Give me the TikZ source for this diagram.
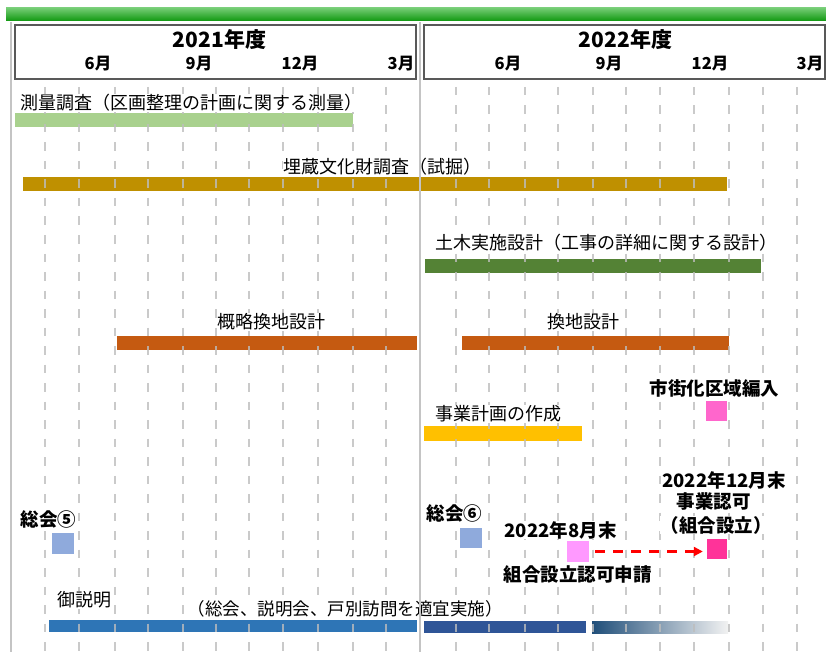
\documentclass[tikz,border=0pt]{standalone}
\usepackage{fontspec}
\setmainfont{Noto Sans CJK JP}
\usetikzlibrary{arrows.meta}
\definecolor{cSurvey}{HTML}{A9D18E}
\definecolor{cGold}{HTML}{BF9000}
\definecolor{cDkGreen}{HTML}{548235}
\definecolor{cOrange}{HTML}{C55A11}
\definecolor{cYellow}{HTML}{FFC000}
\definecolor{cBlue}{HTML}{2E75B6}
\definecolor{cNavy}{HTML}{2F5597}
\definecolor{cGradA}{HTML}{1F4E79}
\definecolor{cGradB}{HTML}{B4C7E7}
\definecolor{cGradC}{HTML}{F2F2F2}
\definecolor{cSq}{HTML}{8FAADC}
\definecolor{cPinkL}{HTML}{FF99FF}
\definecolor{cPinkD}{HTML}{FF3399}
\definecolor{cPinkM}{HTML}{FF66CC}
\definecolor{cTopL}{HTML}{74CC74}
\definecolor{cTopD}{HTML}{0F980F}
\definecolor{cBox}{HTML}{595959}
\definecolor{cGrid}{HTML}{BDBDBD}
\definecolor{cVline}{HTML}{C4C4C4}
\begin{document}
\begin{tikzpicture}[x=1pt,y=-1pt,
  lbl/.style={font=\fontsize{18}{20}\selectfont, fill=white, inner sep=0.5pt},
  blbl/.style={font=\fontsize{18.5}{21}\selectfont\bfseries, fill=white, inner sep=0.5pt},
  yearlbl/.style={font=\fontsize{21}{23}\selectfont\bfseries, inner sep=0pt},
  monlbl/.style={font=\fontsize{16.5}{18}\selectfont\bfseries, inner sep=0pt},
  hbox/.style={draw=cBox, line width=1.5pt, fill=white},
  gridl/.style={draw=cGrid, line width=1.4pt, dash pattern=on 8.5pt off 10pt, opacity=0.8},
  vline/.style={draw=cVline, line width=2pt},
  sq/.style={minimum width=22pt, minimum height=21pt, inner sep=0pt, draw=none},
  redarrow/.style={draw=red, line width=2.5pt, dash pattern=on 10pt off 8pt,
    -{Triangle[length=9pt,width=9pt]}, shorten <=6pt, shorten >=4pt}]
\useasboundingbox (0,0) rectangle (826,652);
% top green band
\shade[top color=cTopL, bottom color=cTopD] (6,8) rectangle (826,21);
% header boxes
\draw[hbox] (15,25) rectangle (416,79);
\draw[hbox] (424,25) rectangle (825,79);
\node[yearlbl] (y1) at (219.5,40) {2021年度};
\node[yearlbl] (y2) at (625.5,40) {2022年度};
\foreach \x/\m/\n in {98/6月/a,199/9月/b,300/12月/c,401/3月/d,508/6月/e,609/9月/f,710/12月/g,810/3月/h}
  \node[monlbl] (m\n) at (\x,64) {\m};
% bars
\fill[cSurvey] (15,113) rectangle (353,127);
\fill[cGold] (23,177) rectangle (727,191);
\fill[cDkGreen] (425,259) rectangle (761,273);
\fill[cOrange] (117,336) rectangle (417,350);
\fill[cOrange] (462,336) rectangle (729,350);
\fill[cYellow] (424,426) rectangle (582,441);
\fill[cBlue] (49,620) rectangle (417,632);
\fill[cNavy] (424,621) rectangle (586,633);
\shade[left color=cGradA, middle color=cGradB, right color=cGradC] (592,621) rectangle (728,633);
% squares
\node[sq, fill=cSq] (s5) at (63,543) {};
\node[sq, fill=cSq, minimum height=20pt] (s6) at (471,538) {};
\node[sq, fill=cPinkL] (sA) at (578,551.5) {};
\node[sq, fill=cPinkD, minimum width=20pt, minimum height=20pt] (sB) at (717,549) {};
\node[sq, fill=cPinkM, minimum width=21pt, minimum height=20pt] (sC) at (716.5,411) {};
% grid
\foreach \x in {45,79,115,148,183,216,249,283,318,353,386,456,489,525,558,593,626,660,694,729,763,797}
  \draw[gridl] (\x,87) -- (\x,652);
% labels
\node[lbl, anchor=west] (t1) at (20,103) {測量調査（区画整理の計画に関する測量）};
\node[lbl, anchor=west] (t2) at (283,167) {埋蔵文化財調査（試掘）};
\node[lbl, anchor=west] (t3) at (435,243) {土木実施設計（工事の詳細に関する設計）};
\node[lbl, anchor=west] (t4) at (217,322) {概略換地設計};
\node[lbl, anchor=west] (t5) at (547,322) {換地設計};
\node[blbl] (t6) at (714.5,388) {市街化区域編入};
\node[lbl, anchor=west] (t7) at (435,414) {事業計画の作成};
\node[blbl] (t8) at (724,480) {2022年12月末};
\node[blbl] (t9) at (713.5,501) {事業認可};
\node[blbl] (t10) at (716,525) {（組合設立）};
\node[blbl, anchor=west] (t11) at (20,519) {総会⑤};
\node[blbl, anchor=west] (t12) at (426,513) {総会⑥};
\node[blbl, anchor=west] (t13) at (504,530) {2022年8月末};
\node[blbl, anchor=west] (t14) at (503,574) {組合設立認可申請};
\node[lbl, anchor=west] (t15) at (57,600) {御説明};
\node[lbl, font=\fontsize{17.5}{19}\selectfont] (t16) at (345,609) {（総会、説明会、戸別訪問を適宜実施）};
% arrow
\draw[redarrow] (sA.east) -- (sA.east -| sB.west);
% solid verticals
\draw[vline] (11,22) -- (11,652);
\draw[vline] (420,22) -- (420,652);
\end{tikzpicture}
\end{document}
